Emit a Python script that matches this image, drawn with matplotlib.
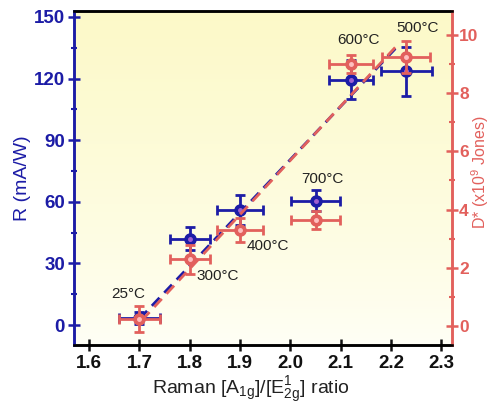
import numpy as np
import matplotlib.pyplot as plt

plt.rcParams['font.family'] = ['Liberation Sans', 'DejaVu Sans']
plt.rcParams['mathtext.fontset'] = 'custom'
plt.rcParams['mathtext.rm'] = 'Liberation Sans'
plt.rcParams['mathtext.it'] = 'Liberation Sans'
plt.rcParams['mathtext.bf'] = 'Liberation Sans:bold'

# Raman intensity ratio for each growth temperature
temps = ['25°C', '300°C', '400°C', '700°C', '600°C', '500°C']
ratio = [1.70, 1.80, 1.90, 2.05, 2.12, 2.23]
ratio_err_r = [0.041, 0.040, 0.046, 0.049, 0.044, 0.051]
ratio_err_d = [0.041, 0.040, 0.046, 0.049, 0.044, 0.048]

# responsivity R (mA/W)
resp = [3.6, 42.0, 56.0, 60.6, 119.5, 123.5]
resp_err = [3.0, 5.6, 7.5, 5.0, 9.5, 12.0]

# detectivity D* (x10^9 Jones)
detect = [0.25, 2.3, 3.3, 3.65, 9.0, 9.25]
detect_err = [0.45, 0.5, 0.4, 0.3, 0.3, 0.55]

# linear trend lines (endpoints)
fit_r_x = [1.70, 2.21]
fit_r_y = [3.0, 135.0]
fit_d_x = [1.705, 2.215]
fit_d_y = [0.2, 9.7]

# label positions (x, R-axis y)
label_x = [1.677, 1.856, 1.955, 2.064, 2.135, 2.252]
label_y = [14.9, 23.7, 38.3, 71.3, 138.6, 144.6]

blue = '#1c1ca6'
red = '#e2605c'

fig = plt.figure(figsize=(4.91, 4.07), dpi=100)
ax = fig.add_axes([0.1507, 0.1523, 0.7689, 0.8206])
ax2 = ax.twinx()

# pale yellow background gradient
grad = np.linspace(0, 1, 256).reshape(-1, 1)
top = np.array([252, 249, 200]) / 255
bot = np.array([255, 255, 246]) / 255
img = bot + (top - bot) * grad[..., None] ** 0.8
ax.imshow(img, extent=[0, 1, 0, 1], transform=ax.transAxes, aspect='auto',
          origin='lower', zorder=0)

ax.set_xlim(1.570, 2.320)
ax.set_ylim(-9.7, 152.9)
ax2.set_ylim(-0.65, 10.82)

ax.plot(fit_r_x, fit_r_y, '--', color=blue, lw=2.0, dashes=(4, 2.5), zorder=3)
ax2.plot(fit_d_x, fit_d_y, '--', color=red, lw=2.0, dashes=(4, 2.5), zorder=3)

ax.errorbar(ratio, resp, xerr=ratio_err_r, yerr=resp_err, fmt='o', color=blue,
            ms=8, elinewidth=2, capsize=3.5, capthick=2, zorder=4)
ax.plot(ratio, resp, 'o', color='#a060d0', ms=2.5, zorder=5)
ax2.errorbar(ratio, detect, xerr=ratio_err_d, yerr=detect_err, fmt='o', color=red,
             ms=8, elinewidth=2, capsize=3.5, capthick=2, zorder=4)
ax2.plot(ratio, detect, 'o', color='#ffc0c0', ms=2.5, zorder=5)

for t, x, y in zip(temps, label_x, label_y):
    ax.text(x, y, t, ha='center', va='center', fontsize=11, color='#222222',
            zorder=6)

ax.set_xticks(np.arange(1.6, 2.31, 0.1))
ax.set_xticklabels([f'{v:.1f}' for v in np.arange(1.6, 2.31, 0.1)])
ax.set_yticks(np.arange(0, 151, 30))
ax.set_yticks(np.arange(15, 150, 30), minor=True)
ax2.set_yticks(np.arange(0, 11, 2))
ax2.set_yticks(np.arange(1, 10, 2), minor=True)

ax.tick_params(axis='x', direction='inout', length=9, width=1.8, colors='#111111',
               labelsize=13.5, pad=3)
ax.tick_params(axis='y', which='major', direction='inout', length=9, width=1.8,
               colors=blue, labelsize=13.5, pad=2)
ax.tick_params(axis='y', which='minor', direction='inout', length=5, width=1.5,
               colors=blue)
ax2.tick_params(axis='y', which='major', direction='inout', length=9, width=1.8,
                colors=red, labelsize=12.5, pad=1)
ax2.tick_params(axis='y', which='minor', direction='inout', length=5, width=1.5,
                colors=red)
for lab in ax.get_xticklabels() + ax.get_yticklabels() + ax2.get_yticklabels():
    lab.set_fontweight('bold')

for a in (ax, ax2):
    for s in a.spines.values():
        s.set_linewidth(1.8)
    a.spines['top'].set_color('black')
    a.spines['bottom'].set_color('black')
    a.spines['left'].set_color(blue)
    a.spines['right'].set_color(red)

ax.set_ylabel('R (mA/W)', color=blue, fontsize=14)
ax.yaxis.set_label_coords(-0.115, 0.5)
ax2.set_ylabel(r'D* (x10$^9$ Jones)', color=red, fontsize=11.5, rotation=90,
               va='center')
ax2.yaxis.set_label_coords(1.075, 0.518)
ax.set_xlabel(r'Raman [A$_{1g}$]/[E$^{1}_{2g}$] ratio', color='#222222',
              fontsize=14)
ax.xaxis.set_label_coords(0.469, -0.09)

fig.savefig('out.png', dpi=100)
